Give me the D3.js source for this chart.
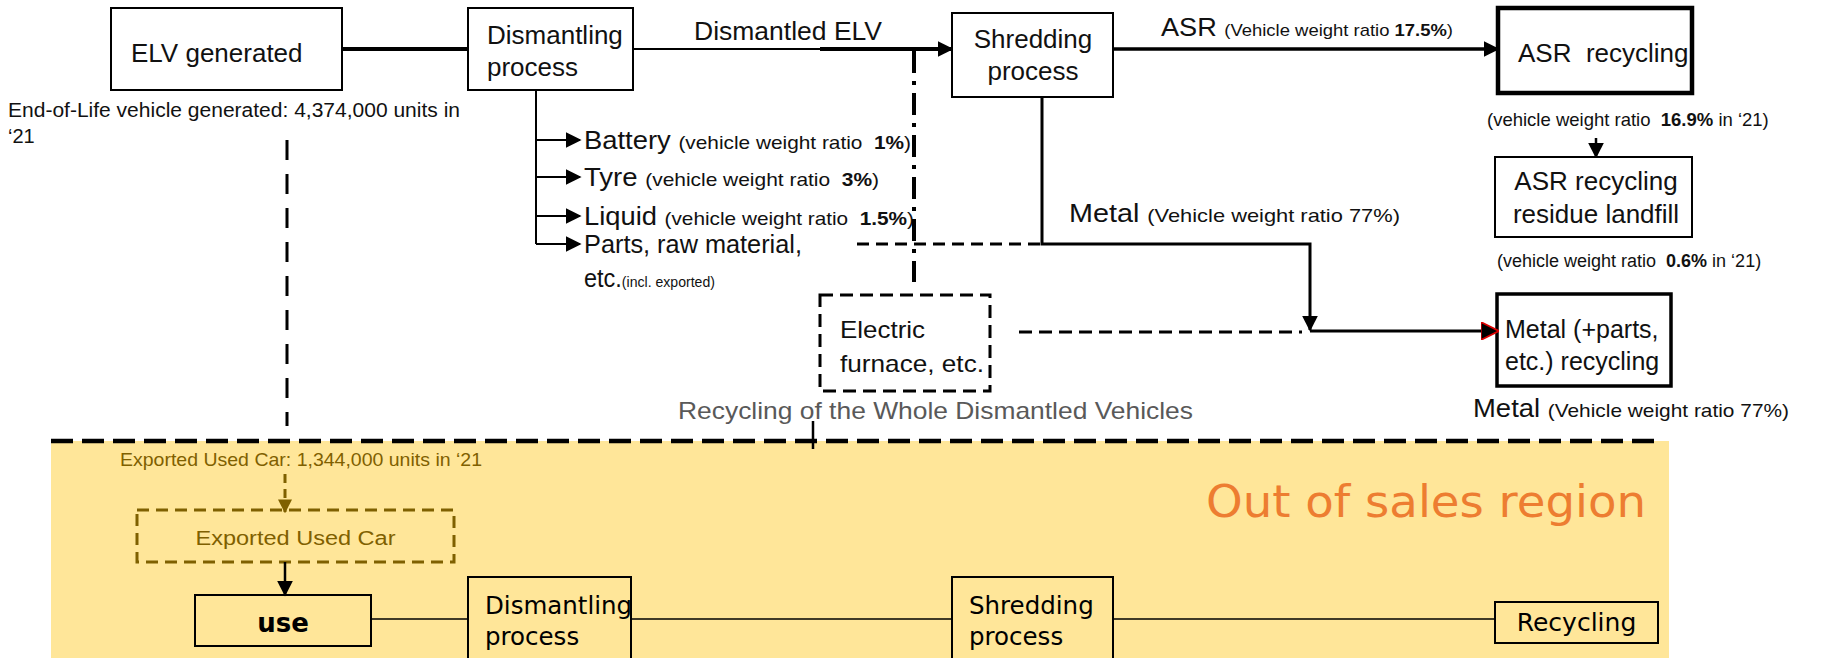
<!DOCTYPE html>
<html>
<head>
<meta charset="utf-8">
<script src="https://cdn.jsdelivr.net/npm/d3@7"></script>
<style>
  body { margin: 0; background: #fff; }
  svg { display: block; }
</style>
</head>
<body>
<svg id="chart" width="1830" height="658"></svg>
<script>
// ---- values ----
const elvUnits = "4,374,000";
const exportedUnits = "1,344,000";
const yearLabel = "\u201821";

const dismantledItems = ["Battery", "Tyre", "Liquid", "Parts, raw material,"];
const dismantledRatios = ["1%", "3%", "1.5%", null];

const asrRatio = "17.5%";
const metalRatio = "77%";
const asrRecycledRatio = "16.9%";
const landfillRatio = "0.6%";

const overseasSteps = ["use", "Dismantling\nprocess", "Shredding\nprocess", "Recycling"];

// ---- layout (pixel positions of the diagram) ----
const layout = {
  elv: [111, 8, 231, 82],
  dismantle: [468, 8, 165, 82],
  shred: [952, 13, 161, 84],
  asr: [1498, 8, 194, 85],
  landfill: [1495, 157, 197, 80],
  metal: [1497, 294, 174, 92],
  furnace: [820, 295, 170, 96],
  band: [51, 441, 1618, 217],
  exported: [137, 510, 317, 52],
  use: [195, 595, 176, 51],
  oDismantle: [468, 577, 163, 90],
  oShred: [952, 577, 161, 90],
  oRecycle: [1495, 602, 163, 41],
  branchX: 536,
  branchY: [140, 177, 216, 244],
  branchFit: [327, 295, 330, 225]
};

const svg = d3.select("#chart");
const FONT = "'Liberation Sans', Arial, sans-serif";
const FONT2 = "'DejaVu Sans', Verdana, sans-serif";
const INK = "#111";
const BROWN = "#7F6000";

// markers
const defs = svg.append("defs");
function addMarker(id, color, size, stroke) {
  defs.append("marker")
    .attr("id", id)
    .attr("viewBox", "0 0 10 10")
    .attr("refX", 9).attr("refY", 5)
    .attr("markerWidth", size).attr("markerHeight", size)
    .attr("markerUnits", "userSpaceOnUse")
    .attr("orient", "auto")
    .append("path")
    .attr("d", "M0,0 L10,5 L0,10 Z")
    .attr("fill", color)
    .attr("stroke", stroke || "none")
    .attr("stroke-width", 1);
}
addMarker("arrow", "#000", 16);
addMarker("arrowBrown", BROWN, 14);
addMarker("arrowRed", "#000", 18, "#d00");

const line = d3.line();

function drawPath(points, style) {
  const p = svg.append("path")
    .attr("d", line(points))
    .attr("fill", "none")
    .attr("stroke", style.color || "#000")
    .attr("stroke-width", style.width || 2);
  if (style.dash) p.attr("stroke-dasharray", style.dash);
  if (style.marker) p.attr("marker-end", "url(#" + style.marker + ")");
  return p;
}

function drawBox(r, style) {
  const b = svg.append("rect")
    .attr("x", r[0]).attr("y", r[1])
    .attr("width", r[2]).attr("height", r[3])
    .attr("fill", style.fill || "#fff")
    .attr("stroke", style.color || "#000")
    .attr("stroke-width", style.width || 2);
  if (style.dash) b.attr("stroke-dasharray", style.dash);
  return b;
}

// parts: [[text, size, weight]]
function addText(x, y, parts, opts) {
  opts = opts || {};
  const t = svg.append("text")
    .attr("x", x).attr("y", y)
    .attr("font-family", opts.family || FONT)
    .attr("font-size", d3.min(parts, p => p[1]))
    .attr("fill", opts.color || INK)
    .attr("text-anchor", opts.anchor || "start")
    .style("white-space", "pre");
  parts.forEach(p => {
    t.append("tspan")
      .attr("font-size", p[1])
      .attr("font-weight", p[2] || "normal")
      .text(p[0]);
  });
  if (opts.fit) t.attr("textLength", opts.fit).attr("lengthAdjust", "spacingAndGlyphs");
  return t;
}

function ratioParts(prefix, value, suffix, size, bold) {
  return [[prefix, size], [value, size, bold ? "bold" : "normal"], [suffix || ")", size]];
}

// ---- overseas band ----
const band = layout.band;
svg.append("rect")
  .attr("x", band[0]).attr("y", band[1])
  .attr("width", band[2]).attr("height", band[3])
  .attr("fill", "#FFE699");

// ---- main flow (top) ----
const L = layout;
const elvMidY = 49;
const SMALL = 19;

drawBox(L.elv, { width: 2 });
addText(131, 62, [["ELV generated", 26]]);

drawPath([[L.elv[0] + L.elv[2], elvMidY], [L.dismantle[0], elvMidY]], { width: 4 });

drawBox(L.dismantle, { width: 2 });
addText(487, 44, [["Dismantling", 26]]);
addText(487, 76, [["process", 26]]);

drawPath([[L.dismantle[0] + L.dismantle[2], elvMidY], [820, elvMidY]], { width: 2 });
drawPath([[820, elvMidY], [L.shred[0], elvMidY]], { width: 4, marker: "arrow" });
addText(694, 40, [["Dismantled ELV", 26]], { fit: 188 });

drawBox(L.shred, { width: 2 });
addText(1033, 48, [["Shredding", 26]], { anchor: "middle" });
addText(1033, 80, [["process", 26]], { anchor: "middle" });

drawPath([[L.shred[0] + L.shred[2], elvMidY], [L.asr[0], elvMidY]], { width: 3.5, marker: "arrow" });
addText(1161, 36, [["ASR ", 25]].concat(ratioParts("(Vehicle weight ratio ", asrRatio, ")", 17, true)), { fit: 292 });

drawBox(L.asr, { width: 4.5 });
addText(1518, 62, [["ASR  recycling", 26]]);

addText(1487, 126, ratioParts("(vehicle weight ratio  ", asrRecycledRatio, " in " + yearLabel + ")", 18.5, true));
drawPath([[1596, 138], [1596, L.landfill[1]]], { width: 2.5, marker: "arrow" });

drawBox(L.landfill, { width: 2 });
addText(1596, 190, [["ASR recycling", 26]], { anchor: "middle" });
addText(1596, 223, [["residue landfill", 26]], { anchor: "middle" });
addText(1497, 267, ratioParts("(vehicle weight ratio  ", landfillRatio, " in " + yearLabel + ")", 18, true));

drawBox(L.metal, { width: 3.5 });
addText(1505, 338, [["Metal (+parts,", 25]]);
addText(1505, 370, [["etc.) recycling", 25]]);
addText(1473, 417, [["Metal ", 25]].concat(ratioParts("(Vehicle weight ratio ", metalRatio, ")", SMALL, false)), { fit: 316 });

// shredder -> metal
drawPath([[1042, L.shred[1] + L.shred[3]], [1042, 244], [1310, 244], [1310, 330]], { width: 3, marker: "arrow" });
drawPath([[1310, 331], [L.metal[0], 331]], { width: 3, marker: "arrowRed" });
addText(1069, 222, [["Metal ", 25]].concat(ratioParts("(Vehicle weight ratio ", metalRatio, ")", SMALL, false)), { fit: 331 });

// dismantled parts branch
drawPath([[L.branchX, L.dismantle[1] + L.dismantle[3]], [L.branchX, L.branchY[3]]], { width: 2 });
L.branchY.forEach((y, i) => {
  drawPath([[L.branchX, y], [580, y]], { width: 2, marker: "arrow" });
  const parts = [[dismantledItems[i] + " ", 25]];
  if (dismantledRatios[i]) {
    parts.push(...ratioParts("(vehicle weight ratio  ", dismantledRatios[i], ")", SMALL, true));
  }
  addText(584, y + 9, parts, { fit: L.branchFit[i] });
});
addText(584, 287, [["etc.", 25], ["(incl. exported)", 15]], { fit: 131 });

// dashed links to electric furnace
drawPath([[914, elvMidY + 2], [914, 282]], { width: 4, dash: "22,8,4,8" });
drawPath([[857, 244], [1042, 244]], { width: 3, dash: "12,7" });
drawBox(L.furnace, { width: 3, dash: "13,7", fill: "none" });
addText(840, 338, [["Electric", 24]], { fit: 85 });
addText(840, 372, [["furnace, etc.", 24]], { fit: 144 });
drawPath([[1019, 332], [1302, 332]], { width: 3, dash: "13,7" });

addText(678, 419, [["Recycling of the Whole Dismantled Vehicles", 24]], { color: "#595959", fit: 515 });
drawPath([[813, 421], [813, 449]], { width: 2.5 });

// ELV generated note + dashed drop
addText(8, 117, [["End-of-Life vehicle generated: " + elvUnits + " units in", 20]], { fit: 452 });
addText(8, 143, [[yearLabel, 20]]);
drawPath([[287, 140], [287, 426]], { width: 3, dash: "20,14" });

// dashed boundary of the band
drawPath([[band[0], band[1]], [1657, band[1]]], { width: 4.5, dash: "22,9" });

// ---- overseas flow ----
addText(1646, 517, [["Out of sales region", 45]], { anchor: "end", color: "#ED7D31", family: FONT2, fit: 440 });

addText(120, 466, [["Exported Used Car: " + exportedUnits + " units in " + yearLabel, 19]], { color: BROWN, fit: 362 });
drawPath([[285, 474], [285, L.exported[1] + 2]], { width: 3, dash: "9,6", color: BROWN, marker: "arrowBrown" });
drawBox(L.exported, { width: 3, dash: "12,7", color: BROWN, fill: "none" });
addText(L.exported[0] + L.exported[2] / 2, 545, [["Exported Used Car", 20]], { anchor: "middle", color: BROWN, fit: 200 });
drawPath([[285, L.exported[1] + L.exported[3]], [285, L.use[1]]], { width: 2.5, marker: "arrow" });

const stepBoxes = [L.use, L.oDismantle, L.oShred, L.oRecycle];
const stepY = 619;
for (let i = 0; i < stepBoxes.length - 1; i++) {
  drawPath([[stepBoxes[i][0] + stepBoxes[i][2], stepY], [stepBoxes[i + 1][0], stepY]], { width: 1.5 });
}
stepBoxes.forEach((r, i) => {
  drawBox(r, { width: 2, fill: "none" });
  const lines = overseasSteps[i].split("\n");
  if (i === 0) {
    addText(r[0] + r[2] / 2, 632, [[lines[0], 26, "bold"]], { anchor: "middle", family: FONT2, color: "#000" });
  } else if (lines.length === 1) {
    addText(r[0] + r[2] / 2, 631, [[lines[0], 25]], { anchor: "middle", family: FONT2, color: "#000" });
  } else {
    lines.forEach((s, j) => {
      addText(r[0] + 17, 614 + j * 31, [[s, 24.5]], { family: FONT2, color: "#000" });
    });
  }
});
</script>
</body>
</html>
